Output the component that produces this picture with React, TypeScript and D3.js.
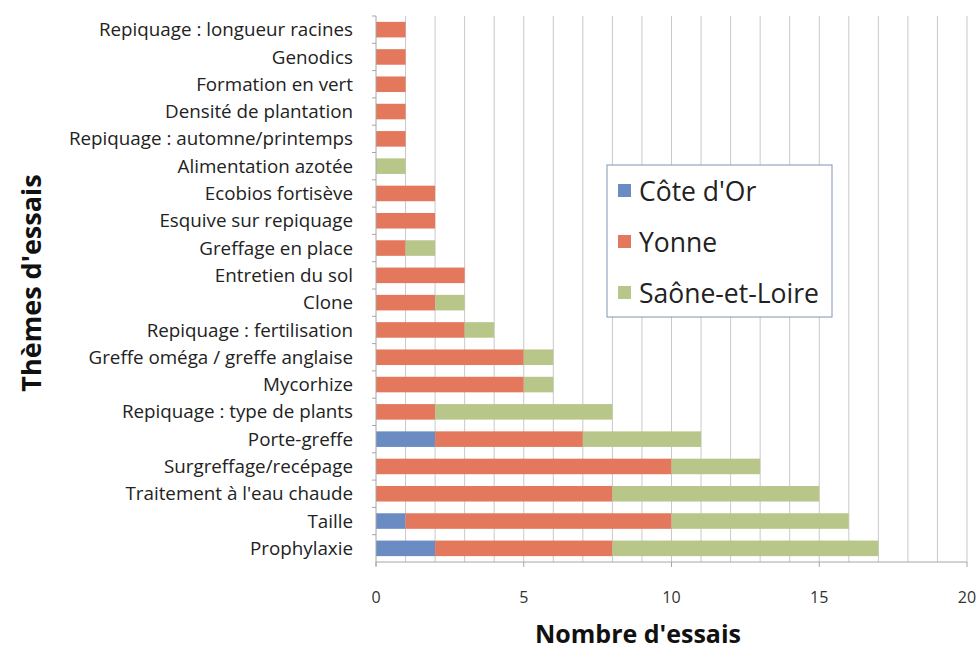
import React from "react";
import * as d3 from "d3";

const categories = [
  "Repiquage : longueur racines",
  "Genodics",
  "Formation en vert",
  "Densité de plantation",
  "Repiquage : automne/printemps",
  "Alimentation azotée",
  "Ecobios fortisève",
  "Esquive sur repiquage",
  "Greffage en place",
  "Entretien du sol",
  "Clone",
  "Repiquage : fertilisation",
  "Greffe oméga / greffe anglaise",
  "Mycorhize",
  "Repiquage : type de plants",
  "Porte-greffe",
  "Surgreffage/recépage",
  "Traitement à l'eau chaude",
  "Taille",
  "Prophylaxie",
];

const coteDOr = [0, 0, 0, 0, 0, 0, 0, 0, 0, 0, 0, 0, 0, 0, 0, 2, 0, 0, 1, 2];
const yonne = [1, 1, 1, 1, 1, 0, 2, 2, 1, 3, 2, 3, 5, 5, 2, 5, 10, 8, 9, 6];
const saone = [0, 0, 0, 0, 0, 1, 0, 0, 1, 0, 1, 1, 1, 1, 6, 4, 3, 7, 6, 9];

const seriesNames = ["Côte d'Or", "Yonne", "Saône-et-Loire"];
const seriesColors = ["#6a8cc3", "#e3785d", "#b8c689"];
const xTicks = [0, 5, 10, 15, 20];

const W = 978;
const H = 651;
const left = 376;
const right = 967;
const top = 16;
const bottom = 562;
const font = "Open Sans, sans-serif";

export default function App() {
  const x = d3.scaleLinear().domain([0, 20]).range([left, right]);
  const y = d3.scaleBand().domain(categories).range([top, bottom]).paddingInner(0.43).paddingOuter(0.215);

  const rows = categories.map((c, i) => ({ c, vals: [coteDOr[i], yonne[i], saone[i]] }));
  const stack = d3
    .stack<{ c: string; vals: number[] }, number>()
    .keys([0, 1, 2])
    .value((d, k) => d.vals[k]);
  const layers = stack(rows);

  return (
    <svg width={W} height={H} style={{ position: "absolute", left: 0, top: 0, background: "#fff" }}>
      {d3.range(1, 21).map((v) => (
        <line key={v} x1={x(v)} x2={x(v)} y1={top} y2={bottom} stroke="#c9c9c9" strokeWidth={1} />
      ))}
      {layers.map((layer, k) =>
        layer.map((d, i) =>
          d[1] - d[0] > 0 ? (
            <rect
              key={k + "-" + i}
              x={x(d[0])}
              y={y(categories[i])}
              width={x(d[1]) - x(d[0])}
              height={y.bandwidth()}
              fill={seriesColors[k]}
            />
          ) : null
        )
      )}
      <line x1={left} x2={left} y1={top} y2={bottom + 4} stroke="#a6a6a6" />
      <line x1={left} x2={right} y1={bottom} y2={bottom} stroke="#a6a6a6" />
      {xTicks.map((t) => (
        <g key={t}>
          <line x1={x(t)} x2={x(t)} y1={bottom} y2={bottom + 5} stroke="#a6a6a6" />
          <text x={x(t)} y={597} dy="0.35em" textAnchor="middle" fontFamily={font} fontSize={16} fill="#333">
            {t}
          </text>
        </g>
      ))}
      {categories.map((c) => (
        <g key={c}>
          <line x1={left - 4} x2={left} y1={y(c)! - y.step() * 0.215} y2={y(c)! - y.step() * 0.215} stroke="#a6a6a6" />
          <text
            x={353}
            y={y(c)! + y.bandwidth() / 2}
            dy="0.35em"
            textAnchor="end"
            fontFamily={font}
            fontSize={18.8}
            fill="#222"
          >
            {c}
          </text>
        </g>
      ))}
      <text x={638} y={643} textAnchor="middle" fontFamily={font} fontWeight="bold" fontSize={25} fill="#111">
        Nombre d'essais
      </text>
      <text
        transform={`translate(41, 283) rotate(-90)`}
        textAnchor="middle"
        fontFamily={font}
        fontWeight="bold"
        fontSize={27}
        fill="#111"
      >
        Thèmes d'essais
      </text>
      <rect x={607} y={165} width={225} height={152} fill="#fff" stroke="#7f95b5" strokeWidth={1} />
      {seriesNames.map((s, k) => (
        <g key={s}>
          <rect x={618} y={184 + k * 51} width={13} height={13} fill={seriesColors[k]} />
          <text x={639} y={191 + k * 51} dy="0.36em" fontFamily={font} fontSize={26.5} fill="#222">
            {s}
          </text>
        </g>
      ))}
    </svg>
  );
}
